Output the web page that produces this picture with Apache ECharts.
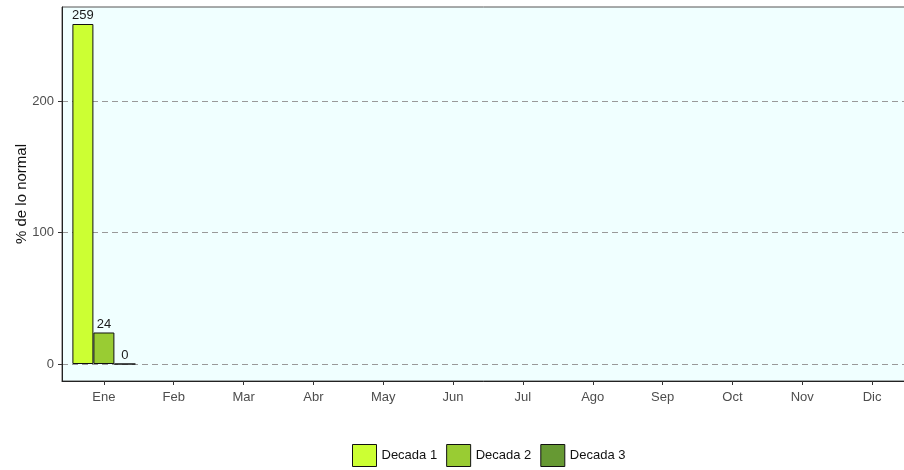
<!DOCTYPE html>
<html>
<head>
<meta charset="utf-8">
<script src="https://cdn.jsdelivr.net/npm/echarts@6/dist/echarts.min.js"></script>
<style>
  html, body { margin: 0; padding: 0; background: #fff; }
  #main { width: 904px; height: 470px; }
</style>
</head>
<body>
<div id="main"></div>
<script>
// datos
var meses = ['Ene','Feb','Mar','Abr','May','Jun','Jul','Ago','Sep','Oct','Nov','Dic']
var decada1 = [259]
var decada2 = [24]
var decada3 = [0]
var yTicks = [0, 100, 200]
var series_names = ['Decada 1','Decada 2','Decada 3']
var colores = ['#ccff33','#99cc33','#669933']

var xPos = []
for (var i = 0; i < meses.length; i++) {
	xPos.push(i + 1)
}

function pares(vals){
	var out = []
	for (var i = 0; i < vals.length; i++) {
		out.push([i + 1, vals[i]])
	}
	return out
}

var font = 'Liberation Sans, Arial, sans-serif'
var myChart = echarts.init(document.getElementById('main'))

var datos = [decada1, decada2, decada3]
var series = []
for (var k = 0; k < datos.length; k++) {
	series.push({
		name: series_names[k],
		type: 'bar',
		data: pares(datos[k]),
		barWidth: 21,
		barGap: '0%',
		itemStyle: { color: colores[k], borderColor: '#111', borderWidth: 1 },
		label: {
			show: true,
			position: 'top',
			distance: 2,
			color: '#1a1a1a',
			fontSize: 13,
			fontFamily: font,
			formatter: function(p){ return p.value[1] }
		}
	})
}

var option = {
	backgroundColor: '#fff',
	animation: false,
	grid: {
		left: 62,
		right: -10,
		top: 7,
		bottom: 89,
		outerBoundsMode: 'none',
		show: true,
		backgroundColor: '#f0ffff',
		borderColor: '#555',
		borderWidth: 1
	},
	legend: {
		data: series_names,
		left: 352,
		top: 444,
		padding: 0,
		itemWidth: 24,
		itemHeight: 22,
		itemGap: 9,
		icon: 'rect',
		itemStyle: { borderColor: '#111', borderWidth: 1 },
		textStyle: { fontSize: 13, fontFamily: font, color: '#111' }
	},
	xAxis: {
		type: 'value',
		min: 0.4,
		max: 12.6,
		axisLine: { show: true, onZero: false, lineStyle: { color: '#222', width: 1 } },
		axisTick: { show: true, length: 4, customValues: xPos, lineStyle: { color: '#333' } },
		axisLabel: {
			customValues: xPos,
			margin: 10,
			color: '#4d4d4d',
			fontSize: 13,
			fontFamily: font,
			formatter: function(v){ return meses[Math.round(v) - 1] }
		},
		splitLine: { show: false }
	},
	yAxis: {
		type: 'value',
		min: -12.95,
		max: 271.95,
		name: '% de lo normal',
		nameLocation: 'middle',
		nameGap: 33,
		nameMoveOverlap: false,
		nameTextStyle: { fontSize: 15, fontFamily: font, color: '#111' },
		axisLine: { show: true, onZero: false, lineStyle: { color: '#222', width: 1 } },
		axisTick: { show: true, length: 4, customValues: yTicks, lineStyle: { color: '#333' } },
		axisLabel: {
			customValues: yTicks,
			margin: 8,
			color: '#4d4d4d',
			fontSize: 13,
			fontFamily: font
		},
		splitLine: { show: true, lineStyle: { color: '#999', type: [6, 4], width: 1 } }
	},
	series: series
}
myChart.setOption(option)
</script>
</body>
</html>
